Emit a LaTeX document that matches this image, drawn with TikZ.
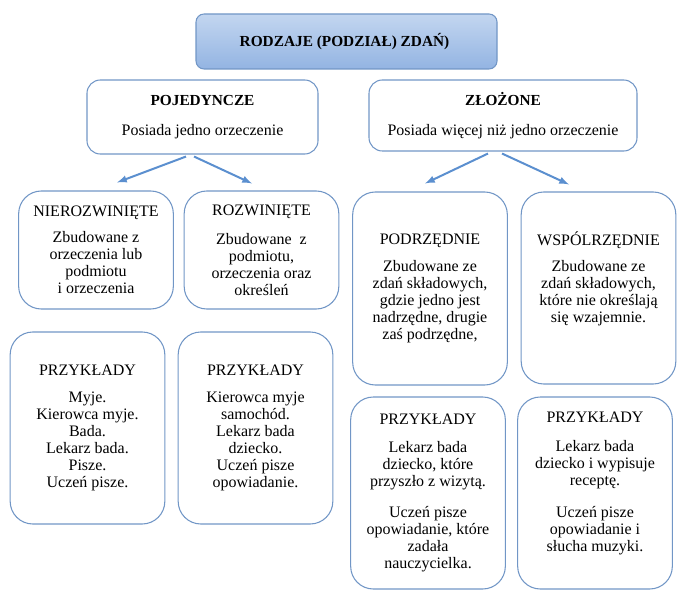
\documentclass[tikz,border=0pt]{standalone}
\usepackage{fontspec}
\setmainfont{Liberation Serif}
\usepackage{tikz}
\usetikzlibrary{arrows}
\definecolor{edge}{HTML}{7196C6}
\definecolor{arrowblue}{HTML}{5B8FCF}
\definecolor{topfill}{HTML}{C3D6F0}
\definecolor{botfill}{HTML}{93B4E2}
\newcommand{\headtxt}[1]{{\fontsize{11.5}{12.75}\selectfont\textbf{#1}}}

\begin{document}
\begin{tikzpicture}[x=0.75pt,y=-0.75pt]
 \tikzstyle{base}=[draw=edge, line width=0.8pt, align=center, inner sep=2pt, font=\fontsize{12}{12.75}\selectfont]
 \tikzstyle{mainbox}=[base, rounded corners=10pt]
 \tikzstyle{smallbox}=[base, rounded corners=17pt, minimum width=116pt]
 \tikzstyle{arr}=[arrowblue, line width=1.5pt, -latex]
 \useasboundingbox (0,0) rectangle (691,609);
  \node[base, rounded corners=6pt, top color=topfill, bottom color=botfill, minimum width=225.75pt, minimum height=41.25pt] at 
  (346.5,41.5) (root) 
  { \headtxt{RODZAJE (PODZIAŁ) ZDAŃ)} };
  \node[mainbox, minimum width=173.25pt, minimum height=55.5pt] at (202.5,117) (poj)
  { \headtxt{POJEDYNCZE}\\[10pt] Posiada jedno orzeczenie };
  \node[mainbox, minimum width=201pt, minimum height=53.25pt] at (503,115.5) (zl)
  { \headtxt{ZŁOŻONE}\\[10pt] Posiada więcej niż jedno orzeczenie };
  % pojedyncze
  \node[smallbox, minimum height=88.5pt] at (96,250) (nier)
  { NIEROZWINIĘTE\\[7pt] Zbudowane z\\ orzeczenia lub\\ podmiotu\\ i orzeczenia };
  \node[smallbox, minimum height=88.5pt] at (261.5,250) (roz)
  { ROZWINIĘTE\\[9pt] Zbudowane\ \ z\\ podmiotu,\\ orzeczenia oraz\\ określeń };
  % zlozone
  \node[smallbox, minimum height=144.75pt] at (430,288.5) (podrz)
  { PODRZĘDNIE\\[7pt] Zbudowane ze\\ zdań składowych,\\ gdzie jedno jest\\ nadrzędne, drugie\\ zaś podrzędne, };
  \node[smallbox, minimum height=144pt] at (598.5,288) (wsp)
  { WSPÓLRZĘDNIE\\[7pt] Zbudowane ze\\ zdań składowych,\\ które nie określają\\ się wzajemnie.\\ \strut };
  % przyklady
  \node[smallbox, minimum height=144pt] at (87.5,428) (przA)
  { PRZYKŁADY\\[7pt] Myje.\\ Kierowca myje.\\ Bada.\\ Lekarz bada.\\ Pisze.\\ Uczeń pisze. };
  \node[smallbox, minimum height=144pt] at (255.5,428) (przB)
  { PRZYKŁADY\\[7pt] Kierowca myje\\ samochód.\\ Lekarz bada\\ dziecko.\\ Uczeń pisze\\ opowiadanie. };
  \node[smallbox, minimum height=144pt] at (428,493) (przC)
  { PRZYKŁADY\\[8pt] Lekarz bada\\ dziecko, które\\ przyszło z wizytą.\\[11pt] Uczeń pisze\\ opowiadanie, które\\ zadała\\ nauczycielka. };
  \node[smallbox, minimum height=144pt] at (595,493) (przD)
  { PRZYKŁADY\\[9pt] Lekarz bada\\ dziecko i wypisuje\\ receptę.\\[11pt] Uczeń pisze\\ opowiadanie i\\ słucha muzyki.\\ \strut };
  \draw[arr] ([shift={(-16.5,2)}]poj.south) -- ([shift={(21,-8)}]nier.north);
  \draw[arr] ([shift={(-8.5,2)}]poj.south) -- ([shift={(-9.5,-7)}]roz.north);
  \draw[arr] ([shift={(-15,2)}]zl.south) -- ([shift={(-5,-8)}]podrz.north);
  \draw[arr] ([shift={(-1,2)}]zl.south) -- ([shift={(-29.5,-7)}]wsp.north);
\end{tikzpicture}
\end{document}
